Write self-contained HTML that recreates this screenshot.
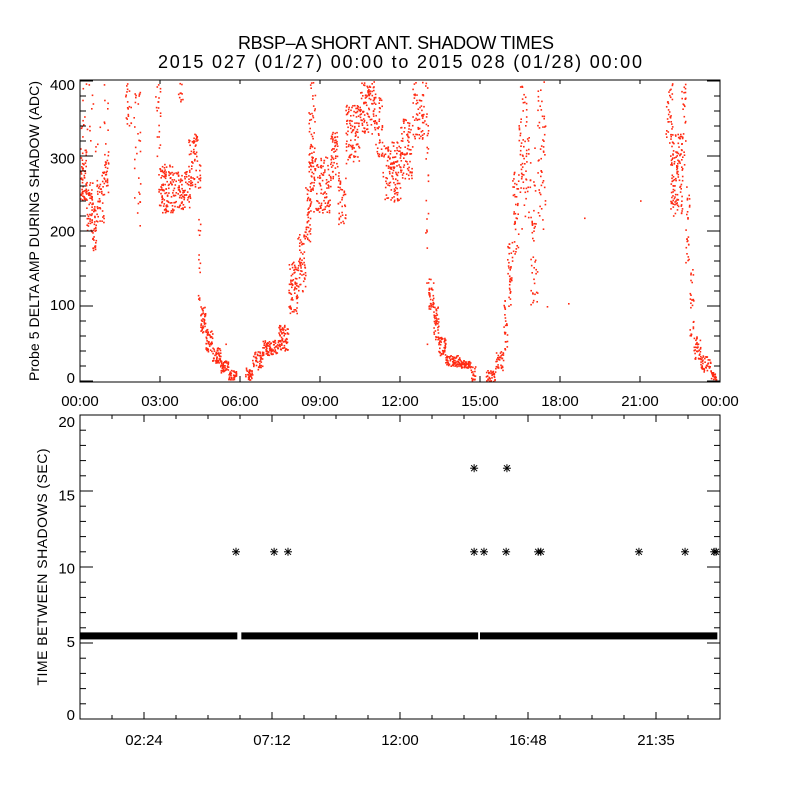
<!DOCTYPE html>
<html><head><meta charset="utf-8">
<style>
html,body{margin:0;padding:0;background:#fff;}
svg{display:block;font-family:"Liberation Sans",sans-serif;}
text{fill:#000;}
</style></head>
<body>
<svg id="chart" width="800" height="800" viewBox="0 0 800 800" xmlns="http://www.w3.org/2000/svg">
<rect x="0" y="0" width="800" height="800" fill="#fff"/>
<text x="396" y="49" font-size="18" text-anchor="middle" textLength="316">RBSP–A SHORT ANT. SHADOW TIMES</text>
<text x="400" y="68" font-size="18" text-anchor="middle" textLength="484">2015 027 (01/27) 00:00 to 2015 028 (01/28) 00:00</text>
<g id="topPanel"></g>
<g id="botPanel"></g>
<text transform="translate(39,231) rotate(-90)" font-size="14" text-anchor="middle" textLength="300">Probe 5 DELTA AMP DURING SHADOW (ADC)</text>
<text transform="translate(47,567) rotate(-90)" font-size="14" text-anchor="middle" textLength="237">TIME BETWEEN SHADOWS (SEC)</text>
</svg>
<script>
// ---- Top panel data: scatter density bands (hours, ADC values) ----
var bandStart = [0,0.22,0.45,0.6,0.9,0,1.69,2.0,2.8,3.67,2.93,3.56,4.05,4.39,
 4.5,4.69,4.95,5.25,5.55,
 6.19,6.45,6.83,7.43,7.8,8.14,8.44,
 8.55,8.55,9.38,9.64,9.94,10.5,11.06,11.33,12.0,12.45,12.94,
 13.05,13.24,13.43,13.69,14.25,14.63,
 15.19,15.56,15.86,16.01,16.2,16.43,16.5,16.88,17.14,
 21.94,22.13,22.5,22.69,22.84,22.99,23.25,23.63];
var bandEnd = [0.22,0.45,0.6,0.9,1.05,1.05,1.9,2.25,3.0,3.83,3.56,4.12,4.39,4.5,
 4.69,4.95,5.25,5.55,5.85,
 6.45,6.83,7.43,7.8,8.14,8.44,8.63,
 8.81,9.38,9.64,9.94,10.5,11.06,11.33,12.0,12.45,12.94,13.05,
 13.24,13.43,13.69,14.25,14.63,14.81,
 15.56,15.86,16.01,16.2,16.43,16.73,17.06,17.14,17.44,
 22.2,22.58,22.69,22.84,22.99,23.25,23.63,23.85];
var bandLo = [240,200,175,210,250,300,330,190,300,370,225,230,260,100,
 65,40,25,12,2,
 2,15,35,40,90,120,180,
 250,225,270,210,290,330,300,240,270,320,130,
 95,55,35,20,18,0,
 0,15,40,100,170,250,200,100,200,
 300,220,280,150,60,30,12,2];
var bandHi = [310,270,240,280,320,400,400,400,400,400,290,280,330,300,
 100,70,45,28,15,
 18,40,55,75,160,200,260,
 400,300,335,280,370,400,380,320,350,400,400,
 140,100,60,35,28,20,
 15,40,110,190,280,400,330,220,400,
 400,330,400,260,150,60,35,15];
var bandCount = [60,50,35,45,25,30,20,30,20,10,120,80,60,25,
 40,50,50,45,40,
 35,45,80,70,70,60,40,
 50,120,50,40,100,100,40,120,80,60,25,
 35,40,45,70,50,20,
 35,35,25,35,40,45,40,30,50,
 35,120,30,25,25,35,40,25];
var isoHours = [5.45,7.4,13.0,17.5,18.3,18.9,21.0];
var isoVals = [50,45,50,100,104,218,241];

// ---- Bottom panel data ----
var bandSegStart = [0.0, 6.05, 15.0];
var bandSegEnd = [5.9, 14.93, 23.9];
var bandValue = 5.5;
var outlierHours = [5.85,7.28,7.8,14.78,15.15,15.98,17.18,17.28,20.96,22.69,23.78,23.85,14.78,16.01];
var outlierVals = [11,11,11,11,11,11,11,11,11,11,11,11,16.5,16.5];
var topYTicks = [0,100,200,300,400];
var topXLabels = ["00:00","03:00","06:00","09:00","12:00","15:00","18:00","21:00","00:00"];
var botYTicks = [0,5,10,15,20];
var botXLabels = ["02:24","07:12","12:00","16:48","21:35"];

var NS="http://www.w3.org/2000/svg";
var L=80,R=720,T1=80,B1=382,T2=415,B2=719;
function xs(h){return L+h*(R-L)/24;}
function y1(v){return 381-v*0.75;}
function y2(v){return B2-v*(B2-T2)/20;}
// label placement (IDL style labels slightly compressed vs ticks)
function y1lab(v){return 378-v*(378-85)/400;}
function y2lab(v){return 715-v*(715-422)/20;}
function mk(tag,at,parent){var e=document.createElementNS(NS,tag);for(var k in at)e.setAttribute(k,at[k]);parent.appendChild(e);return e;}
var topG=document.getElementById('topPanel'),botG=document.getElementById('botPanel');
var seed=12345;function rnd(){seed=(seed*16807)%2147483647;return seed/2147483647;}

for(var i=0;i<bandStart.length;i++){
  for(var j=0;j<bandCount[i];j++){
    var h=bandStart[i]+(bandEnd[i]-bandStart[i])*rnd();
    var v=bandLo[i]+(bandHi[i]-bandLo[i])*rnd();
    var d=mk('rect',{x:xs(h).toFixed(1),y:y1(v).toFixed(1),width:1.6,height:1.6,fill:'#ff2a12'},topG);
    
    
  }
}
for(var i=0;i<isoHours.length;i++){
  var d=mk('rect',{x:xs(isoHours[i]),y:y1(isoVals[i]),width:1.6,height:1.6,fill:'#ff2a12'},topG);
  
  
}
var f=mk('rect',{x:L,y:T1,width:R-L,height:B1-T1,fill:'none',stroke:'#000','stroke-width':1},topG);


for(var v=0;v<=400;v+=20){
  var len=(v%100===0)?13:6;
  mk('line',{x1:L,x2:L+len,y1:y1(v),y2:y1(v),stroke:'#000'},topG);
  mk('line',{x1:R,x2:R-len,y1:y1(v),y2:y1(v),stroke:'#000'},topG);
}
for(var i=0;i<topYTicks.length;i++){
  var t=mk('text',{x:75,y:y1lab(topYTicks[i])+5,'font-size':15,'text-anchor':'end'},topG);
  t.textContent=topYTicks[i];
  
  
}
for(var i=0;i<topXLabels.length;i++){
  var x=xs(i*3);
  mk('line',{x1:x,x2:x,y1:B1,y2:B1-6,stroke:'#000'},topG);
  mk('line',{x1:x,x2:x,y1:T1,y2:T1+4,stroke:'#000'},topG);
  var t=mk('text',{x:x,y:406,'font-size':15,'text-anchor':'middle'},topG);
  t.textContent=topXLabels[i];
  
  
}

for(var i=0;i<bandSegStart.length;i++){
  var b=mk('rect',{x:xs(bandSegStart[i]),y:y2(bandValue)-3,width:xs(bandSegEnd[i])-xs(bandSegStart[i]),height:7,fill:'#000'},botG);
  
  
}
function star(cx,cy){
  var g=mk('g',{stroke:'#000','stroke-width':1},botG);
  
  
  mk('line',{x1:cx-4,x2:cx+4,y1:cy,y2:cy},g);
  mk('line',{x1:cx,x2:cx,y1:cy-4,y2:cy+4},g);
  mk('line',{x1:cx-3,x2:cx+3,y1:cy-3,y2:cy+3},g);
  mk('line',{x1:cx-3,x2:cx+3,y1:cy+3,y2:cy-3},g);
}
for(var i=0;i<outlierHours.length;i++)star(xs(outlierHours[i]),y2(outlierVals[i]));
var f2=mk('rect',{x:L,y:T2,width:R-L,height:B2-T2,fill:'none',stroke:'#000','stroke-width':1},botG);


for(var v=0;v<=20;v++){
  var len=(v%5===0)?13:6;
  mk('line',{x1:L,x2:L+len,y1:y2(v),y2:y2(v),stroke:'#000'},botG);
  mk('line',{x1:R,x2:R-len,y1:y2(v),y2:y2(v),stroke:'#000'},botG);
}
for(var i=0;i<botYTicks.length;i++){
  var t=mk('text',{x:75,y:y2lab(botYTicks[i])+5,'font-size':15,'text-anchor':'end'},botG);
  t.textContent=botYTicks[i];
  
  
}
for(var k=1;k<20;k++){
  var x=L+k*32,len=(k%4===2)?7:4;
  mk('line',{x1:x,x2:x,y1:B2,y2:B2-len,stroke:'#000'},botG);
  mk('line',{x1:x,x2:x,y1:T2,y2:T2+len,stroke:'#000'},botG);
}
for(var i=0;i<botXLabels.length;i++){
  var t=mk('text',{x:L+64+i*128,y:745,'font-size':15,'text-anchor':'middle'},botG);
  t.textContent=botXLabels[i];
  
  
}
</script>
</body></html>
